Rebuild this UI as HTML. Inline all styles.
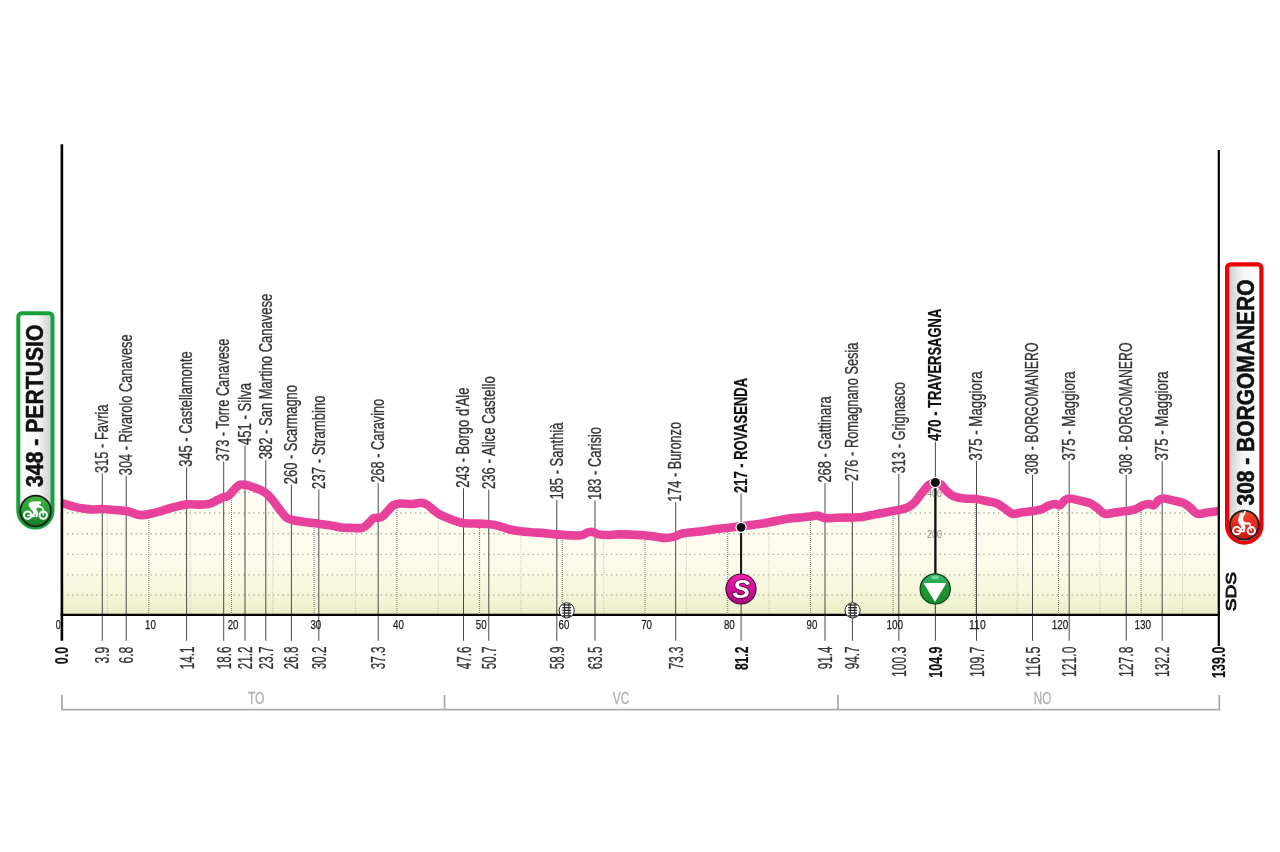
<!DOCTYPE html>
<html lang="it"><head><meta charset="utf-8"><title>Pertusio - Borgomanero</title>
<style>html,body{margin:0;padding:0;background:#fff}body{width:1280px;height:852px;overflow:hidden}svg{display:block}text{font-family:"Liberation Sans",sans-serif}.lb{font-size:17.7px;fill:#333;stroke:#333;stroke-width:.3px}.lbb{font-size:17.9px;font-weight:bold;fill:#111;stroke:#111;stroke-width:.2px}.km{font-size:19.5px;fill:#333;stroke:#333;stroke-width:.3px}.kmb{font-size:18.8px;font-weight:bold;fill:#111;stroke:#111;stroke-width:.2px}.tk{font-size:12.2px;fill:#1c1c1c;stroke:#1c1c1c;stroke-width:.25px}.pv{font-size:17.3px;fill:#aeaeae;stroke:#aeaeae;stroke-width:.3px}.al{font-size:10.5px;fill:#8a8a82}.bd{font-size:23.6px;font-weight:bold;fill:#111;stroke:#111;stroke-width:.55px}</style></head><body>
<svg width="1280" height="852" viewBox="0 0 1280 852">
<defs>
<linearGradient id="gfill" x1="0" y1="480" x2="0" y2="615" gradientUnits="userSpaceOnUse"><stop offset="0" stop-color="#fefdf4"/><stop offset="0.6" stop-color="#fcfbeb"/><stop offset="0.8" stop-color="#f6f7dd"/><stop offset="1" stop-color="#ecefc6"/></linearGradient>
<clipPath id="carea"><path d="M61.90 503.10 C64.08 503.73 70.32 505.85 75.00 506.90 C79.68 507.95 85.42 509.05 90.00 509.40 C94.58 509.75 98.33 508.90 102.50 509.00 C106.67 509.10 110.83 509.62 115.00 510.00 C119.17 510.38 123.33 510.47 127.50 511.30 C131.67 512.13 136.25 514.58 140.00 515.00 C143.75 515.42 146.25 514.53 150.00 513.80 C153.75 513.07 158.33 511.75 162.50 510.60 C166.67 509.45 170.83 507.93 175.00 506.90 C179.17 505.87 183.33 504.78 187.50 504.40 C191.67 504.02 196.25 504.73 200.00 504.60 C203.75 504.47 207.08 504.37 210.00 503.60 C212.92 502.83 215.21 501.08 217.50 500.00 C219.79 498.92 221.88 497.83 223.75 497.10 C225.62 496.37 226.88 496.99 228.75 495.60 C230.62 494.21 233.12 490.56 235.00 488.75 C236.88 486.94 238.33 485.42 240.00 484.75 C241.67 484.08 242.92 484.39 245.00 484.75 C247.08 485.11 249.17 485.61 252.50 486.90 C255.83 488.19 261.67 490.32 265.00 492.50 C268.33 494.68 270.00 497.08 272.50 500.00 C275.00 502.92 277.71 507.08 280.00 510.00 C282.29 512.92 284.17 515.83 286.25 517.50 C288.33 519.17 289.17 519.21 292.50 520.00 C295.83 520.79 301.88 521.62 306.25 522.25 C310.62 522.88 314.58 523.19 318.75 523.75 C322.92 524.31 327.50 524.98 331.25 525.60 C335.00 526.23 338.12 527.12 341.25 527.50 C344.38 527.88 346.46 527.86 350.00 527.90 C353.54 527.94 359.38 528.55 362.50 527.75 C365.62 526.95 366.88 524.71 368.75 523.10 C370.62 521.49 371.67 519.08 373.75 518.10 C375.83 517.12 378.96 518.39 381.25 517.25 C383.54 516.11 385.42 513.29 387.50 511.25 C389.58 509.21 391.67 506.29 393.75 505.00 C395.83 503.71 396.88 503.67 400.00 503.50 C403.12 503.33 408.96 504.12 412.50 504.00 C416.04 503.88 418.75 502.58 421.25 502.75 C423.75 502.92 424.79 503.27 427.50 505.00 C430.21 506.73 433.75 510.77 437.50 513.10 C441.25 515.43 445.83 517.33 450.00 519.00 C454.17 520.67 458.33 522.35 462.50 523.10 C466.67 523.85 470.83 523.35 475.00 523.50 C479.17 523.65 483.75 523.65 487.50 524.00 C491.25 524.35 493.75 524.68 497.50 525.60 C501.25 526.52 506.25 528.56 510.00 529.50 C513.75 530.44 516.46 530.79 520.00 531.25 C523.54 531.71 527.29 531.94 531.25 532.25 C535.21 532.56 539.58 532.74 543.75 533.10 C547.92 533.46 552.08 534.04 556.25 534.40 C560.42 534.76 564.58 535.11 568.75 535.25 C572.92 535.39 578.12 535.71 581.25 535.25 C584.38 534.79 585.62 533.06 587.50 532.50 C589.38 531.94 590.62 531.58 592.50 531.90 C594.38 532.22 596.25 533.88 598.75 534.40 C601.25 534.92 604.17 535.00 607.50 535.00 C610.83 535.00 614.79 534.47 618.75 534.40 C622.71 534.33 627.08 534.46 631.25 534.60 C635.42 534.74 639.38 534.87 643.75 535.25 C648.12 535.63 653.96 536.46 657.50 536.90 C661.04 537.34 662.29 537.90 665.00 537.90 C667.71 537.90 670.83 537.63 673.75 536.90 C676.67 536.17 678.12 534.40 682.50 533.50 C686.88 532.60 693.96 532.29 700.00 531.50 C706.04 530.71 711.92 529.62 718.75 528.75 C725.58 527.88 733.71 527.17 741.00 526.30 C748.29 525.42 754.75 524.76 762.50 523.50 C770.25 522.24 781.25 519.73 787.50 518.75 C793.75 517.77 796.25 517.96 800.00 517.60 C803.75 517.24 807.08 516.93 810.00 516.60 C812.92 516.27 815.00 515.35 817.50 515.60 C820.00 515.85 821.67 517.74 825.00 518.10 C828.33 518.46 832.92 517.85 837.50 517.75 C842.08 517.65 848.33 517.64 852.50 517.50 C856.67 517.36 858.75 517.42 862.50 516.90 C866.25 516.38 870.83 515.23 875.00 514.40 C879.17 513.57 883.33 512.67 887.50 511.90 C891.67 511.12 896.46 510.58 900.00 509.75 C903.54 508.92 906.25 508.21 908.75 506.90 C911.25 505.59 912.92 504.09 915.00 501.90 C917.08 499.71 918.96 496.57 921.25 493.75 C923.54 490.93 926.46 486.88 928.75 485.00 C931.04 483.12 932.92 482.53 935.00 482.50 C937.08 482.47 939.25 483.30 941.25 484.80 C943.25 486.30 944.92 489.59 947.00 491.50 C949.08 493.41 950.96 495.08 953.75 496.25 C956.54 497.42 960.00 498.04 963.75 498.50 C967.50 498.96 972.29 498.54 976.25 499.00 C980.21 499.46 983.96 500.46 987.50 501.25 C991.04 502.04 994.58 502.50 997.50 503.75 C1000.42 505.00 1002.50 507.08 1005.00 508.75 C1007.50 510.42 1009.79 513.12 1012.50 513.75 C1015.21 514.38 1017.92 512.96 1021.25 512.50 C1024.58 512.04 1029.17 511.52 1032.50 511.00 C1035.83 510.48 1038.54 510.30 1041.25 509.40 C1043.96 508.50 1046.46 506.50 1048.75 505.60 C1051.04 504.70 1053.12 504.06 1055.00 504.00 C1056.88 503.94 1058.33 505.92 1060.00 505.25 C1061.67 504.58 1063.33 501.12 1065.00 500.00 C1066.67 498.88 1067.50 498.40 1070.00 498.50 C1072.50 498.60 1076.67 499.83 1080.00 500.60 C1083.33 501.37 1087.17 501.90 1090.00 503.10 C1092.83 504.30 1094.50 506.03 1097.00 507.80 C1099.50 509.57 1102.00 512.97 1105.00 513.75 C1108.00 514.53 1111.46 512.96 1115.00 512.50 C1118.54 512.04 1122.92 511.52 1126.25 511.00 C1129.58 510.48 1132.29 510.30 1135.00 509.40 C1137.71 508.50 1140.21 506.50 1142.50 505.60 C1144.79 504.70 1146.88 504.06 1148.75 504.00 C1150.62 503.94 1152.08 505.92 1153.75 505.25 C1155.42 504.58 1157.08 501.12 1158.75 500.00 C1160.42 498.88 1161.25 498.40 1163.75 498.50 C1166.25 498.60 1170.42 499.83 1173.75 500.60 C1177.08 501.37 1181.04 501.95 1183.75 503.10 C1186.46 504.25 1187.71 505.73 1190.00 507.50 C1192.29 509.27 1194.58 512.92 1197.50 513.75 C1200.42 514.58 1203.96 512.96 1207.50 512.50 C1211.04 512.04 1216.88 511.25 1218.75 511.00 L1218.75 614.9 L61.9 614.9 Z"/></clipPath>
<linearGradient id="gl" x1="0" y1="0" x2="1" y2="0"><stop offset="0" stop-color="#fff"/><stop offset="0.55" stop-color="#fafafa"/><stop offset="1" stop-color="#c9c9d1"/></linearGradient>
<linearGradient id="gr" x1="0" y1="0" x2="1" y2="0"><stop offset="0" stop-color="#c6c9cb"/><stop offset="0.45" stop-color="#f6f6f6"/><stop offset="1" stop-color="#fff"/></linearGradient>
<linearGradient id="ggreen" x1="0" y1="0" x2="0" y2="1"><stop offset="0" stop-color="#3db53d"/><stop offset="0.5" stop-color="#26a032"/><stop offset="1" stop-color="#14792a"/></linearGradient>
<linearGradient id="gred" x1="0" y1="0" x2="0" y2="1"><stop offset="0" stop-color="#f04a2a"/><stop offset="0.5" stop-color="#e62a1c"/><stop offset="1" stop-color="#c81414"/></linearGradient>
<linearGradient id="gmag" x1="0" y1="0" x2="0" y2="1"><stop offset="0" stop-color="#ee22b0"/><stop offset="0.5" stop-color="#d3109a"/><stop offset="1" stop-color="#a40a7c"/></linearGradient>
<linearGradient id="gkom" x1="0" y1="0" x2="0" y2="1"><stop offset="0" stop-color="#35b86e"/><stop offset="0.3" stop-color="#27a84e"/><stop offset="0.31" stop-color="#1f9b38"/><stop offset="1" stop-color="#178a30"/></linearGradient>
</defs>
<rect width="1280" height="852" fill="#fff"/>
<path d="M61.90 503.10 C64.08 503.73 70.32 505.85 75.00 506.90 C79.68 507.95 85.42 509.05 90.00 509.40 C94.58 509.75 98.33 508.90 102.50 509.00 C106.67 509.10 110.83 509.62 115.00 510.00 C119.17 510.38 123.33 510.47 127.50 511.30 C131.67 512.13 136.25 514.58 140.00 515.00 C143.75 515.42 146.25 514.53 150.00 513.80 C153.75 513.07 158.33 511.75 162.50 510.60 C166.67 509.45 170.83 507.93 175.00 506.90 C179.17 505.87 183.33 504.78 187.50 504.40 C191.67 504.02 196.25 504.73 200.00 504.60 C203.75 504.47 207.08 504.37 210.00 503.60 C212.92 502.83 215.21 501.08 217.50 500.00 C219.79 498.92 221.88 497.83 223.75 497.10 C225.62 496.37 226.88 496.99 228.75 495.60 C230.62 494.21 233.12 490.56 235.00 488.75 C236.88 486.94 238.33 485.42 240.00 484.75 C241.67 484.08 242.92 484.39 245.00 484.75 C247.08 485.11 249.17 485.61 252.50 486.90 C255.83 488.19 261.67 490.32 265.00 492.50 C268.33 494.68 270.00 497.08 272.50 500.00 C275.00 502.92 277.71 507.08 280.00 510.00 C282.29 512.92 284.17 515.83 286.25 517.50 C288.33 519.17 289.17 519.21 292.50 520.00 C295.83 520.79 301.88 521.62 306.25 522.25 C310.62 522.88 314.58 523.19 318.75 523.75 C322.92 524.31 327.50 524.98 331.25 525.60 C335.00 526.23 338.12 527.12 341.25 527.50 C344.38 527.88 346.46 527.86 350.00 527.90 C353.54 527.94 359.38 528.55 362.50 527.75 C365.62 526.95 366.88 524.71 368.75 523.10 C370.62 521.49 371.67 519.08 373.75 518.10 C375.83 517.12 378.96 518.39 381.25 517.25 C383.54 516.11 385.42 513.29 387.50 511.25 C389.58 509.21 391.67 506.29 393.75 505.00 C395.83 503.71 396.88 503.67 400.00 503.50 C403.12 503.33 408.96 504.12 412.50 504.00 C416.04 503.88 418.75 502.58 421.25 502.75 C423.75 502.92 424.79 503.27 427.50 505.00 C430.21 506.73 433.75 510.77 437.50 513.10 C441.25 515.43 445.83 517.33 450.00 519.00 C454.17 520.67 458.33 522.35 462.50 523.10 C466.67 523.85 470.83 523.35 475.00 523.50 C479.17 523.65 483.75 523.65 487.50 524.00 C491.25 524.35 493.75 524.68 497.50 525.60 C501.25 526.52 506.25 528.56 510.00 529.50 C513.75 530.44 516.46 530.79 520.00 531.25 C523.54 531.71 527.29 531.94 531.25 532.25 C535.21 532.56 539.58 532.74 543.75 533.10 C547.92 533.46 552.08 534.04 556.25 534.40 C560.42 534.76 564.58 535.11 568.75 535.25 C572.92 535.39 578.12 535.71 581.25 535.25 C584.38 534.79 585.62 533.06 587.50 532.50 C589.38 531.94 590.62 531.58 592.50 531.90 C594.38 532.22 596.25 533.88 598.75 534.40 C601.25 534.92 604.17 535.00 607.50 535.00 C610.83 535.00 614.79 534.47 618.75 534.40 C622.71 534.33 627.08 534.46 631.25 534.60 C635.42 534.74 639.38 534.87 643.75 535.25 C648.12 535.63 653.96 536.46 657.50 536.90 C661.04 537.34 662.29 537.90 665.00 537.90 C667.71 537.90 670.83 537.63 673.75 536.90 C676.67 536.17 678.12 534.40 682.50 533.50 C686.88 532.60 693.96 532.29 700.00 531.50 C706.04 530.71 711.92 529.62 718.75 528.75 C725.58 527.88 733.71 527.17 741.00 526.30 C748.29 525.42 754.75 524.76 762.50 523.50 C770.25 522.24 781.25 519.73 787.50 518.75 C793.75 517.77 796.25 517.96 800.00 517.60 C803.75 517.24 807.08 516.93 810.00 516.60 C812.92 516.27 815.00 515.35 817.50 515.60 C820.00 515.85 821.67 517.74 825.00 518.10 C828.33 518.46 832.92 517.85 837.50 517.75 C842.08 517.65 848.33 517.64 852.50 517.50 C856.67 517.36 858.75 517.42 862.50 516.90 C866.25 516.38 870.83 515.23 875.00 514.40 C879.17 513.57 883.33 512.67 887.50 511.90 C891.67 511.12 896.46 510.58 900.00 509.75 C903.54 508.92 906.25 508.21 908.75 506.90 C911.25 505.59 912.92 504.09 915.00 501.90 C917.08 499.71 918.96 496.57 921.25 493.75 C923.54 490.93 926.46 486.88 928.75 485.00 C931.04 483.12 932.92 482.53 935.00 482.50 C937.08 482.47 939.25 483.30 941.25 484.80 C943.25 486.30 944.92 489.59 947.00 491.50 C949.08 493.41 950.96 495.08 953.75 496.25 C956.54 497.42 960.00 498.04 963.75 498.50 C967.50 498.96 972.29 498.54 976.25 499.00 C980.21 499.46 983.96 500.46 987.50 501.25 C991.04 502.04 994.58 502.50 997.50 503.75 C1000.42 505.00 1002.50 507.08 1005.00 508.75 C1007.50 510.42 1009.79 513.12 1012.50 513.75 C1015.21 514.38 1017.92 512.96 1021.25 512.50 C1024.58 512.04 1029.17 511.52 1032.50 511.00 C1035.83 510.48 1038.54 510.30 1041.25 509.40 C1043.96 508.50 1046.46 506.50 1048.75 505.60 C1051.04 504.70 1053.12 504.06 1055.00 504.00 C1056.88 503.94 1058.33 505.92 1060.00 505.25 C1061.67 504.58 1063.33 501.12 1065.00 500.00 C1066.67 498.88 1067.50 498.40 1070.00 498.50 C1072.50 498.60 1076.67 499.83 1080.00 500.60 C1083.33 501.37 1087.17 501.90 1090.00 503.10 C1092.83 504.30 1094.50 506.03 1097.00 507.80 C1099.50 509.57 1102.00 512.97 1105.00 513.75 C1108.00 514.53 1111.46 512.96 1115.00 512.50 C1118.54 512.04 1122.92 511.52 1126.25 511.00 C1129.58 510.48 1132.29 510.30 1135.00 509.40 C1137.71 508.50 1140.21 506.50 1142.50 505.60 C1144.79 504.70 1146.88 504.06 1148.75 504.00 C1150.62 503.94 1152.08 505.92 1153.75 505.25 C1155.42 504.58 1157.08 501.12 1158.75 500.00 C1160.42 498.88 1161.25 498.40 1163.75 498.50 C1166.25 498.60 1170.42 499.83 1173.75 500.60 C1177.08 501.37 1181.04 501.95 1183.75 503.10 C1186.46 504.25 1187.71 505.73 1190.00 507.50 C1192.29 509.27 1194.58 512.92 1197.50 513.75 C1200.42 514.58 1203.96 512.96 1207.50 512.50 C1211.04 512.04 1216.88 511.25 1218.75 511.00 L1218.75 614.9 L61.9 614.9 Z" fill="url(#gfill)"/>
<g clip-path="url(#carea)">
<line x1="67" y1="492.30" x2="1218" y2="492.30" stroke="#aeae9f" stroke-width="1.3" stroke-dasharray="1.4 3.5"/>
<line x1="67" y1="513.00" x2="1218" y2="513.00" stroke="#aeae9f" stroke-width="1.3" stroke-dasharray="1.4 3.5"/>
<line x1="67" y1="533.75" x2="1218" y2="533.75" stroke="#aeae9f" stroke-width="1.3" stroke-dasharray="1.4 3.5"/>
<line x1="67" y1="554.40" x2="1218" y2="554.40" stroke="#aeae9f" stroke-width="1.3" stroke-dasharray="1.4 3.5"/>
<line x1="67" y1="574.80" x2="1218" y2="574.80" stroke="#aeae9f" stroke-width="1.3" stroke-dasharray="1.4 3.5"/>
<line x1="67" y1="595.20" x2="1218" y2="595.20" stroke="#aeae9f" stroke-width="1.3" stroke-dasharray="1.4 3.5"/>
<line x1="148.8" y1="470" x2="148.8" y2="614" stroke="#6c6c66" stroke-width="0.9" stroke-dasharray="1 1"/>
<line x1="231.5" y1="470" x2="231.5" y2="614" stroke="#6c6c66" stroke-width="0.9" stroke-dasharray="1 1"/>
<line x1="314.2" y1="470" x2="314.2" y2="614" stroke="#6c6c66" stroke-width="0.9" stroke-dasharray="1 1"/>
<line x1="396.9" y1="470" x2="396.9" y2="614" stroke="#6c6c66" stroke-width="0.9" stroke-dasharray="1 1"/>
<line x1="479.6" y1="470" x2="479.6" y2="614" stroke="#6c6c66" stroke-width="0.9" stroke-dasharray="1 1"/>
<line x1="562.3" y1="470" x2="562.3" y2="614" stroke="#6c6c66" stroke-width="0.9" stroke-dasharray="1 1"/>
<line x1="645.0" y1="470" x2="645.0" y2="614" stroke="#6c6c66" stroke-width="0.9" stroke-dasharray="1 1"/>
<line x1="727.7" y1="470" x2="727.7" y2="614" stroke="#6c6c66" stroke-width="0.9" stroke-dasharray="1 1"/>
<line x1="810.4" y1="470" x2="810.4" y2="614" stroke="#6c6c66" stroke-width="0.9" stroke-dasharray="1 1"/>
<line x1="893.1" y1="470" x2="893.1" y2="614" stroke="#6c6c66" stroke-width="0.9" stroke-dasharray="1 1"/>
<line x1="975.8" y1="470" x2="975.8" y2="614" stroke="#6c6c66" stroke-width="0.9" stroke-dasharray="1 1"/>
<line x1="1058.5" y1="470" x2="1058.5" y2="614" stroke="#6c6c66" stroke-width="0.9" stroke-dasharray="1 1"/>
<line x1="1141.2" y1="470" x2="1141.2" y2="614" stroke="#6c6c66" stroke-width="0.9" stroke-dasharray="1 1"/>
<line x1="107.4" y1="470" x2="107.4" y2="614" stroke="#c4c4b8" stroke-width="0.9" stroke-dasharray="1 1"/>
<line x1="190.2" y1="470" x2="190.2" y2="614" stroke="#c4c4b8" stroke-width="0.9" stroke-dasharray="1 1"/>
<line x1="272.9" y1="470" x2="272.9" y2="614" stroke="#c4c4b8" stroke-width="0.9" stroke-dasharray="1 1"/>
<line x1="355.5" y1="470" x2="355.5" y2="614" stroke="#c4c4b8" stroke-width="0.9" stroke-dasharray="1 1"/>
<line x1="438.2" y1="470" x2="438.2" y2="614" stroke="#c4c4b8" stroke-width="0.9" stroke-dasharray="1 1"/>
<line x1="521.0" y1="470" x2="521.0" y2="614" stroke="#c4c4b8" stroke-width="0.9" stroke-dasharray="1 1"/>
<line x1="603.7" y1="470" x2="603.7" y2="614" stroke="#c4c4b8" stroke-width="0.9" stroke-dasharray="1 1"/>
<line x1="686.4" y1="470" x2="686.4" y2="614" stroke="#c4c4b8" stroke-width="0.9" stroke-dasharray="1 1"/>
<line x1="769.1" y1="470" x2="769.1" y2="614" stroke="#c4c4b8" stroke-width="0.9" stroke-dasharray="1 1"/>
<line x1="851.8" y1="470" x2="851.8" y2="614" stroke="#c4c4b8" stroke-width="0.9" stroke-dasharray="1 1"/>
<line x1="934.5" y1="470" x2="934.5" y2="614" stroke="#c4c4b8" stroke-width="0.9" stroke-dasharray="1 1"/>
<line x1="1017.2" y1="470" x2="1017.2" y2="614" stroke="#c4c4b8" stroke-width="0.9" stroke-dasharray="1 1"/>
<line x1="1099.8" y1="470" x2="1099.8" y2="614" stroke="#c4c4b8" stroke-width="0.9" stroke-dasharray="1 1"/>
<line x1="1182.5" y1="470" x2="1182.5" y2="614" stroke="#c4c4b8" stroke-width="0.9" stroke-dasharray="1 1"/>
</g>
<text class="al" x="934.5" y="497" text-anchor="middle" textLength="15" lengthAdjust="spacingAndGlyphs">400</text>
<text class="al" x="934.5" y="537.6" text-anchor="middle" textLength="15" lengthAdjust="spacingAndGlyphs">200</text>
<line x1="102.3" y1="473.4" x2="102.3" y2="640.8" stroke="#4a4a4a" stroke-width="1"/>
<line x1="126.2" y1="475.7" x2="126.2" y2="640.8" stroke="#4a4a4a" stroke-width="1"/>
<line x1="186.6" y1="467.3" x2="186.6" y2="640.8" stroke="#4a4a4a" stroke-width="1"/>
<line x1="223.7" y1="461.5" x2="223.7" y2="640.8" stroke="#4a4a4a" stroke-width="1"/>
<line x1="245.0" y1="445.5" x2="245.0" y2="640.8" stroke="#4a4a4a" stroke-width="1"/>
<line x1="265.8" y1="459.7" x2="265.8" y2="640.8" stroke="#4a4a4a" stroke-width="1"/>
<line x1="291.4" y1="484.7" x2="291.4" y2="640.8" stroke="#4a4a4a" stroke-width="1"/>
<line x1="318.8" y1="489.4" x2="318.8" y2="640.8" stroke="#4a4a4a" stroke-width="1"/>
<line x1="378.2" y1="483.1" x2="378.2" y2="640.8" stroke="#4a4a4a" stroke-width="1"/>
<line x1="463.5" y1="488.2" x2="463.5" y2="640.8" stroke="#4a4a4a" stroke-width="1"/>
<line x1="488.8" y1="489.6" x2="488.8" y2="640.8" stroke="#4a4a4a" stroke-width="1"/>
<line x1="556.8" y1="500.1" x2="556.8" y2="640.8" stroke="#4a4a4a" stroke-width="1"/>
<line x1="595.0" y1="500.5" x2="595.0" y2="640.8" stroke="#4a4a4a" stroke-width="1"/>
<line x1="675.7" y1="502.3" x2="675.7" y2="640.8" stroke="#4a4a4a" stroke-width="1"/>
<line x1="741.1" y1="493.5" x2="741.1" y2="640.8" stroke="#4a4a4a" stroke-width="1"/>
<line x1="825.0" y1="483.1" x2="825.0" y2="640.8" stroke="#4a4a4a" stroke-width="1"/>
<line x1="852.4" y1="481.4" x2="852.4" y2="640.8" stroke="#4a4a4a" stroke-width="1"/>
<line x1="898.8" y1="473.8" x2="898.8" y2="640.8" stroke="#4a4a4a" stroke-width="1"/>
<line x1="935.4" y1="441.6" x2="935.4" y2="640.8" stroke="#4a4a4a" stroke-width="1"/>
<line x1="976.5" y1="461.1" x2="976.5" y2="640.8" stroke="#4a4a4a" stroke-width="1"/>
<line x1="1032.5" y1="474.9" x2="1032.5" y2="640.8" stroke="#4a4a4a" stroke-width="1"/>
<line x1="1069.2" y1="461.1" x2="1069.2" y2="640.8" stroke="#4a4a4a" stroke-width="1"/>
<line x1="1126.2" y1="474.9" x2="1126.2" y2="640.8" stroke="#4a4a4a" stroke-width="1"/>
<line x1="1162.2" y1="461.1" x2="1162.2" y2="640.8" stroke="#4a4a4a" stroke-width="1"/>
<path d="M61.90 503.10 C64.08 503.73 70.32 505.85 75.00 506.90 C79.68 507.95 85.42 509.05 90.00 509.40 C94.58 509.75 98.33 508.90 102.50 509.00 C106.67 509.10 110.83 509.62 115.00 510.00 C119.17 510.38 123.33 510.47 127.50 511.30 C131.67 512.13 136.25 514.58 140.00 515.00 C143.75 515.42 146.25 514.53 150.00 513.80 C153.75 513.07 158.33 511.75 162.50 510.60 C166.67 509.45 170.83 507.93 175.00 506.90 C179.17 505.87 183.33 504.78 187.50 504.40 C191.67 504.02 196.25 504.73 200.00 504.60 C203.75 504.47 207.08 504.37 210.00 503.60 C212.92 502.83 215.21 501.08 217.50 500.00 C219.79 498.92 221.88 497.83 223.75 497.10 C225.62 496.37 226.88 496.99 228.75 495.60 C230.62 494.21 233.12 490.56 235.00 488.75 C236.88 486.94 238.33 485.42 240.00 484.75 C241.67 484.08 242.92 484.39 245.00 484.75 C247.08 485.11 249.17 485.61 252.50 486.90 C255.83 488.19 261.67 490.32 265.00 492.50 C268.33 494.68 270.00 497.08 272.50 500.00 C275.00 502.92 277.71 507.08 280.00 510.00 C282.29 512.92 284.17 515.83 286.25 517.50 C288.33 519.17 289.17 519.21 292.50 520.00 C295.83 520.79 301.88 521.62 306.25 522.25 C310.62 522.88 314.58 523.19 318.75 523.75 C322.92 524.31 327.50 524.98 331.25 525.60 C335.00 526.23 338.12 527.12 341.25 527.50 C344.38 527.88 346.46 527.86 350.00 527.90 C353.54 527.94 359.38 528.55 362.50 527.75 C365.62 526.95 366.88 524.71 368.75 523.10 C370.62 521.49 371.67 519.08 373.75 518.10 C375.83 517.12 378.96 518.39 381.25 517.25 C383.54 516.11 385.42 513.29 387.50 511.25 C389.58 509.21 391.67 506.29 393.75 505.00 C395.83 503.71 396.88 503.67 400.00 503.50 C403.12 503.33 408.96 504.12 412.50 504.00 C416.04 503.88 418.75 502.58 421.25 502.75 C423.75 502.92 424.79 503.27 427.50 505.00 C430.21 506.73 433.75 510.77 437.50 513.10 C441.25 515.43 445.83 517.33 450.00 519.00 C454.17 520.67 458.33 522.35 462.50 523.10 C466.67 523.85 470.83 523.35 475.00 523.50 C479.17 523.65 483.75 523.65 487.50 524.00 C491.25 524.35 493.75 524.68 497.50 525.60 C501.25 526.52 506.25 528.56 510.00 529.50 C513.75 530.44 516.46 530.79 520.00 531.25 C523.54 531.71 527.29 531.94 531.25 532.25 C535.21 532.56 539.58 532.74 543.75 533.10 C547.92 533.46 552.08 534.04 556.25 534.40 C560.42 534.76 564.58 535.11 568.75 535.25 C572.92 535.39 578.12 535.71 581.25 535.25 C584.38 534.79 585.62 533.06 587.50 532.50 C589.38 531.94 590.62 531.58 592.50 531.90 C594.38 532.22 596.25 533.88 598.75 534.40 C601.25 534.92 604.17 535.00 607.50 535.00 C610.83 535.00 614.79 534.47 618.75 534.40 C622.71 534.33 627.08 534.46 631.25 534.60 C635.42 534.74 639.38 534.87 643.75 535.25 C648.12 535.63 653.96 536.46 657.50 536.90 C661.04 537.34 662.29 537.90 665.00 537.90 C667.71 537.90 670.83 537.63 673.75 536.90 C676.67 536.17 678.12 534.40 682.50 533.50 C686.88 532.60 693.96 532.29 700.00 531.50 C706.04 530.71 711.92 529.62 718.75 528.75 C725.58 527.88 733.71 527.17 741.00 526.30 C748.29 525.42 754.75 524.76 762.50 523.50 C770.25 522.24 781.25 519.73 787.50 518.75 C793.75 517.77 796.25 517.96 800.00 517.60 C803.75 517.24 807.08 516.93 810.00 516.60 C812.92 516.27 815.00 515.35 817.50 515.60 C820.00 515.85 821.67 517.74 825.00 518.10 C828.33 518.46 832.92 517.85 837.50 517.75 C842.08 517.65 848.33 517.64 852.50 517.50 C856.67 517.36 858.75 517.42 862.50 516.90 C866.25 516.38 870.83 515.23 875.00 514.40 C879.17 513.57 883.33 512.67 887.50 511.90 C891.67 511.12 896.46 510.58 900.00 509.75 C903.54 508.92 906.25 508.21 908.75 506.90 C911.25 505.59 912.92 504.09 915.00 501.90 C917.08 499.71 918.96 496.57 921.25 493.75 C923.54 490.93 926.46 486.88 928.75 485.00 C931.04 483.12 932.92 482.53 935.00 482.50 C937.08 482.47 939.25 483.30 941.25 484.80 C943.25 486.30 944.92 489.59 947.00 491.50 C949.08 493.41 950.96 495.08 953.75 496.25 C956.54 497.42 960.00 498.04 963.75 498.50 C967.50 498.96 972.29 498.54 976.25 499.00 C980.21 499.46 983.96 500.46 987.50 501.25 C991.04 502.04 994.58 502.50 997.50 503.75 C1000.42 505.00 1002.50 507.08 1005.00 508.75 C1007.50 510.42 1009.79 513.12 1012.50 513.75 C1015.21 514.38 1017.92 512.96 1021.25 512.50 C1024.58 512.04 1029.17 511.52 1032.50 511.00 C1035.83 510.48 1038.54 510.30 1041.25 509.40 C1043.96 508.50 1046.46 506.50 1048.75 505.60 C1051.04 504.70 1053.12 504.06 1055.00 504.00 C1056.88 503.94 1058.33 505.92 1060.00 505.25 C1061.67 504.58 1063.33 501.12 1065.00 500.00 C1066.67 498.88 1067.50 498.40 1070.00 498.50 C1072.50 498.60 1076.67 499.83 1080.00 500.60 C1083.33 501.37 1087.17 501.90 1090.00 503.10 C1092.83 504.30 1094.50 506.03 1097.00 507.80 C1099.50 509.57 1102.00 512.97 1105.00 513.75 C1108.00 514.53 1111.46 512.96 1115.00 512.50 C1118.54 512.04 1122.92 511.52 1126.25 511.00 C1129.58 510.48 1132.29 510.30 1135.00 509.40 C1137.71 508.50 1140.21 506.50 1142.50 505.60 C1144.79 504.70 1146.88 504.06 1148.75 504.00 C1150.62 503.94 1152.08 505.92 1153.75 505.25 C1155.42 504.58 1157.08 501.12 1158.75 500.00 C1160.42 498.88 1161.25 498.40 1163.75 498.50 C1166.25 498.60 1170.42 499.83 1173.75 500.60 C1177.08 501.37 1181.04 501.95 1183.75 503.10 C1186.46 504.25 1187.71 505.73 1190.00 507.50 C1192.29 509.27 1194.58 512.92 1197.50 513.75 C1200.42 514.58 1203.96 512.96 1207.50 512.50 C1211.04 512.04 1216.88 511.25 1218.75 511.00" fill="none" stroke="#e8419b" stroke-width="8.6" stroke-linejoin="round" stroke-linecap="butt"/>
<line x1="61.9" y1="144.3" x2="61.9" y2="640.8" stroke="#000" stroke-width="2.6"/>
<line x1="1218.8" y1="150" x2="1218.8" y2="646" stroke="#000" stroke-width="2.2"/>
<line x1="60.6" y1="614.9" x2="1219.9" y2="614.9" stroke="#000" stroke-width="2.1"/>
<line x1="741.1" y1="527" x2="741.1" y2="575" stroke="#111" stroke-width="2"/>
<line x1="935.4" y1="482.5" x2="935.4" y2="575" stroke="#111" stroke-width="2.3"/>
<circle cx="741.1" cy="527.3" r="5.6" fill="#fff"/><circle cx="741.1" cy="527.3" r="4.4" fill="#111"/>
<circle cx="935.3" cy="482.5" r="5.8" fill="#fff"/><circle cx="935.3" cy="482.5" r="4.6" fill="#111"/>
<circle cx="741" cy="589" r="15" fill="url(#gmag)" stroke="#4d0638" stroke-width="1.2"/>
<text x="741.3" y="598.3" text-anchor="middle" font-size="26" font-weight="bold" font-style="italic" fill="#fff" stroke="#4d0638" stroke-width="1.6" paint-order="stroke" stroke-linejoin="round" textLength="17.6" lengthAdjust="spacingAndGlyphs">S</text>
<circle cx="935.2" cy="588.9" r="15.1" fill="url(#gkom)" stroke="#0c3d18" stroke-width="1.2"/>
<ellipse cx="935.2" cy="577.4" rx="3.8" ry="1.8" fill="#8fd9a8" opacity="0.8"/>
<path d="M923.6 582.9 L946.4 582.9 L935 602 Z" fill="#fff"/>
<g><circle cx="566.7" cy="610.4" r="7.6" fill="#fff" stroke="#222" stroke-width="1"/>
<path d="M564.5 603.6V617.2M568.9 603.6V617.2" stroke="#222" stroke-width="1" fill="none"/>
<line x1="562.3" y1="605.0" x2="571.1" y2="605.0" stroke="#222" stroke-width="1.3"/>
<line x1="562.3" y1="607.7" x2="571.1" y2="607.7" stroke="#222" stroke-width="1.3"/>
<line x1="562.3" y1="610.4" x2="571.1" y2="610.4" stroke="#222" stroke-width="1.3"/>
<line x1="562.3" y1="613.1" x2="571.1" y2="613.1" stroke="#222" stroke-width="1.3"/>
<line x1="562.3" y1="615.8" x2="571.1" y2="615.8" stroke="#222" stroke-width="1.3"/>
</g>
<g><circle cx="852.6" cy="610.4" r="7.6" fill="#fff" stroke="#222" stroke-width="1"/>
<path d="M850.4 603.6V617.2M854.8 603.6V617.2" stroke="#222" stroke-width="1" fill="none"/>
<line x1="848.2" y1="605.0" x2="857.0" y2="605.0" stroke="#222" stroke-width="1.3"/>
<line x1="848.2" y1="607.7" x2="857.0" y2="607.7" stroke="#222" stroke-width="1.3"/>
<line x1="848.2" y1="610.4" x2="857.0" y2="610.4" stroke="#222" stroke-width="1.3"/>
<line x1="848.2" y1="613.1" x2="857.0" y2="613.1" stroke="#222" stroke-width="1.3"/>
<line x1="848.2" y1="615.8" x2="857.0" y2="615.8" stroke="#222" stroke-width="1.3"/>
</g>
<text class="lb" transform="translate(102.3 472.9) rotate(-90)" x="0" y="5.7" textLength="68.4" lengthAdjust="spacingAndGlyphs">315 - Favria</text>
<text class="lb" transform="translate(126.2 475.2) rotate(-90)" x="0" y="5.7" textLength="140.7" lengthAdjust="spacingAndGlyphs">304 - Rivarolo Canavese</text>
<text class="lb" transform="translate(186.6 466.8) rotate(-90)" x="0" y="5.7" textLength="115.5" lengthAdjust="spacingAndGlyphs">345 - Castellamonte</text>
<text class="lb" transform="translate(223.7 461.0) rotate(-90)" x="0" y="5.7" textLength="122.3" lengthAdjust="spacingAndGlyphs">373 - Torre Canavese</text>
<text class="lb" transform="translate(245.0 445.0) rotate(-90)" x="0" y="5.7" textLength="62.0" lengthAdjust="spacingAndGlyphs">451 - Silva</text>
<text class="lb" transform="translate(265.8 459.2) rotate(-90)" x="0" y="5.7" textLength="165.4" lengthAdjust="spacingAndGlyphs">382 - San Martino Canavese</text>
<text class="lb" transform="translate(291.4 484.2) rotate(-90)" x="0" y="5.7" textLength="99.2" lengthAdjust="spacingAndGlyphs">260 - Scarmagno</text>
<text class="lb" transform="translate(318.8 488.9) rotate(-90)" x="0" y="5.7" textLength="93.4" lengthAdjust="spacingAndGlyphs">237 - Strambino</text>
<text class="lb" transform="translate(378.2 482.6) rotate(-90)" x="0" y="5.7" textLength="83.8" lengthAdjust="spacingAndGlyphs">268 - Caravino</text>
<text class="lb" transform="translate(463.5 487.7) rotate(-90)" x="0" y="5.7" textLength="100.2" lengthAdjust="spacingAndGlyphs">243 - Borgo d'Ale</text>
<text class="lb" transform="translate(488.8 489.1) rotate(-90)" x="0" y="5.7" textLength="112.9" lengthAdjust="spacingAndGlyphs">236 - Alice Castello</text>
<text class="lb" transform="translate(556.8 499.6) rotate(-90)" x="0" y="5.7" textLength="77.1" lengthAdjust="spacingAndGlyphs">185 - Santhià</text>
<text class="lb" transform="translate(595.0 500.0) rotate(-90)" x="0" y="5.7" textLength="73.0" lengthAdjust="spacingAndGlyphs">183 - Carisio</text>
<text class="lb" transform="translate(675.7 501.8) rotate(-90)" x="0" y="5.7" textLength="79.8" lengthAdjust="spacingAndGlyphs">174 - Buronzo</text>
<text class="lbb" transform="translate(741.1 493.0) rotate(-90)" x="0" y="5.7" textLength="115.0" lengthAdjust="spacingAndGlyphs">217 - ROVASENDA</text>
<text class="lb" transform="translate(825.0 482.6) rotate(-90)" x="0" y="5.7" textLength="86.3" lengthAdjust="spacingAndGlyphs">268 - Gattinara</text>
<text class="lb" transform="translate(852.4 480.9) rotate(-90)" x="0" y="5.7" textLength="138.4" lengthAdjust="spacingAndGlyphs">276 - Romagnano Sesia</text>
<text class="lb" transform="translate(898.8 473.3) rotate(-90)" x="0" y="5.7" textLength="91.3" lengthAdjust="spacingAndGlyphs">313 - Grignasco</text>
<text class="lbb" transform="translate(935.4 441.1) rotate(-90)" x="0" y="5.7" textLength="132.4" lengthAdjust="spacingAndGlyphs">470 - TRAVERSAGNA</text>
<text class="lb" transform="translate(976.5 460.6) rotate(-90)" x="0" y="5.7" textLength="89.3" lengthAdjust="spacingAndGlyphs">375 - Maggiora</text>
<text class="lb" transform="translate(1032.5 474.4) rotate(-90)" x="0" y="5.7" textLength="132.1" lengthAdjust="spacingAndGlyphs">308 - BORGOMANERO</text>
<text class="lb" transform="translate(1069.2 460.6) rotate(-90)" x="0" y="5.7" textLength="89.3" lengthAdjust="spacingAndGlyphs">375 - Maggiora</text>
<text class="lb" transform="translate(1126.2 474.4) rotate(-90)" x="0" y="5.7" textLength="132.1" lengthAdjust="spacingAndGlyphs">308 - BORGOMANERO</text>
<text class="lb" transform="translate(1162.2 460.6) rotate(-90)" x="0" y="5.7" textLength="89.3" lengthAdjust="spacingAndGlyphs">375 - Maggiora</text>
<text class="km" transform="translate(102.3 646.6) rotate(-90)" x="0" y="7.0" text-anchor="end" textLength="17.0" lengthAdjust="spacingAndGlyphs">3.9</text>
<text class="km" transform="translate(126.2 646.6) rotate(-90)" x="0" y="7.0" text-anchor="end" textLength="17.0" lengthAdjust="spacingAndGlyphs">6.8</text>
<text class="km" transform="translate(186.6 646.6) rotate(-90)" x="0" y="7.0" text-anchor="end" textLength="22.7" lengthAdjust="spacingAndGlyphs">14.1</text>
<text class="km" transform="translate(223.7 646.6) rotate(-90)" x="0" y="7.0" text-anchor="end" textLength="22.7" lengthAdjust="spacingAndGlyphs">18.6</text>
<text class="km" transform="translate(245.0 646.6) rotate(-90)" x="0" y="7.0" text-anchor="end" textLength="22.7" lengthAdjust="spacingAndGlyphs">21.2</text>
<text class="km" transform="translate(265.8 646.6) rotate(-90)" x="0" y="7.0" text-anchor="end" textLength="22.7" lengthAdjust="spacingAndGlyphs">23.7</text>
<text class="km" transform="translate(291.4 646.6) rotate(-90)" x="0" y="7.0" text-anchor="end" textLength="22.7" lengthAdjust="spacingAndGlyphs">26.8</text>
<text class="km" transform="translate(318.8 646.6) rotate(-90)" x="0" y="7.0" text-anchor="end" textLength="22.7" lengthAdjust="spacingAndGlyphs">30.2</text>
<text class="km" transform="translate(378.2 646.6) rotate(-90)" x="0" y="7.0" text-anchor="end" textLength="22.7" lengthAdjust="spacingAndGlyphs">37.3</text>
<text class="km" transform="translate(463.5 646.6) rotate(-90)" x="0" y="7.0" text-anchor="end" textLength="22.7" lengthAdjust="spacingAndGlyphs">47.6</text>
<text class="km" transform="translate(488.8 646.6) rotate(-90)" x="0" y="7.0" text-anchor="end" textLength="22.7" lengthAdjust="spacingAndGlyphs">50.7</text>
<text class="km" transform="translate(556.8 646.6) rotate(-90)" x="0" y="7.0" text-anchor="end" textLength="22.7" lengthAdjust="spacingAndGlyphs">58.9</text>
<text class="km" transform="translate(595.0 646.6) rotate(-90)" x="0" y="7.0" text-anchor="end" textLength="22.7" lengthAdjust="spacingAndGlyphs">63.5</text>
<text class="km" transform="translate(675.7 646.6) rotate(-90)" x="0" y="7.0" text-anchor="end" textLength="22.7" lengthAdjust="spacingAndGlyphs">73.3</text>
<text class="kmb" transform="translate(741.1 646.6) rotate(-90)" x="0" y="6.7" text-anchor="end" textLength="23.5" lengthAdjust="spacingAndGlyphs">81.2</text>
<text class="km" transform="translate(825.0 646.6) rotate(-90)" x="0" y="7.0" text-anchor="end" textLength="22.7" lengthAdjust="spacingAndGlyphs">91.4</text>
<text class="km" transform="translate(852.4 646.6) rotate(-90)" x="0" y="7.0" text-anchor="end" textLength="22.7" lengthAdjust="spacingAndGlyphs">94.7</text>
<text class="km" transform="translate(898.8 646.6) rotate(-90)" x="0" y="7.0" text-anchor="end" textLength="30.3" lengthAdjust="spacingAndGlyphs">100.3</text>
<text class="kmb" transform="translate(935.4 646.6) rotate(-90)" x="0" y="6.7" text-anchor="end" textLength="31.1" lengthAdjust="spacingAndGlyphs">104.9</text>
<text class="km" transform="translate(976.5 646.6) rotate(-90)" x="0" y="7.0" text-anchor="end" textLength="30.3" lengthAdjust="spacingAndGlyphs">109.7</text>
<text class="km" transform="translate(1032.5 646.6) rotate(-90)" x="0" y="7.0" text-anchor="end" textLength="30.3" lengthAdjust="spacingAndGlyphs">116.5</text>
<text class="km" transform="translate(1069.2 646.6) rotate(-90)" x="0" y="7.0" text-anchor="end" textLength="30.3" lengthAdjust="spacingAndGlyphs">121.0</text>
<text class="km" transform="translate(1126.2 646.6) rotate(-90)" x="0" y="7.0" text-anchor="end" textLength="30.3" lengthAdjust="spacingAndGlyphs">127.8</text>
<text class="km" transform="translate(1162.2 646.6) rotate(-90)" x="0" y="7.0" text-anchor="end" textLength="30.3" lengthAdjust="spacingAndGlyphs">132.2</text>
<text class="kmb" transform="translate(61.5 646.6) rotate(-90)" x="0" y="6.7" text-anchor="end" textLength="17.6" lengthAdjust="spacingAndGlyphs">0.0</text>
<text class="kmb" transform="translate(1218.3 646.6) rotate(-90)" x="0" y="6.7" text-anchor="end" textLength="31.3" lengthAdjust="spacingAndGlyphs">139.0</text>
<text class="tk" x="58.2" y="628.7" text-anchor="middle" textLength="5" lengthAdjust="spacingAndGlyphs">0</text>
<text class="tk" x="150.4" y="628.7" text-anchor="middle" textLength="10.8" lengthAdjust="spacingAndGlyphs">10</text>
<text class="tk" x="233.1" y="628.7" text-anchor="middle" textLength="10.8" lengthAdjust="spacingAndGlyphs">20</text>
<text class="tk" x="315.8" y="628.7" text-anchor="middle" textLength="10.8" lengthAdjust="spacingAndGlyphs">30</text>
<text class="tk" x="398.5" y="628.7" text-anchor="middle" textLength="10.8" lengthAdjust="spacingAndGlyphs">40</text>
<text class="tk" x="481.2" y="628.7" text-anchor="middle" textLength="10.8" lengthAdjust="spacingAndGlyphs">50</text>
<text class="tk" x="563.9" y="628.7" text-anchor="middle" textLength="10.8" lengthAdjust="spacingAndGlyphs">60</text>
<text class="tk" x="646.6" y="628.7" text-anchor="middle" textLength="10.8" lengthAdjust="spacingAndGlyphs">70</text>
<text class="tk" x="729.3" y="628.7" text-anchor="middle" textLength="10.8" lengthAdjust="spacingAndGlyphs">80</text>
<text class="tk" x="812.0" y="628.7" text-anchor="middle" textLength="10.8" lengthAdjust="spacingAndGlyphs">90</text>
<text class="tk" x="894.7" y="628.7" text-anchor="middle" textLength="16.6" lengthAdjust="spacingAndGlyphs">100</text>
<text class="tk" x="977.4" y="628.7" text-anchor="middle" textLength="16.6" lengthAdjust="spacingAndGlyphs">110</text>
<text class="tk" x="1060.1" y="628.7" text-anchor="middle" textLength="16.6" lengthAdjust="spacingAndGlyphs">120</text>
<text class="tk" x="1142.8" y="628.7" text-anchor="middle" textLength="16.6" lengthAdjust="spacingAndGlyphs">130</text>
<path d="M62 695V709.6H1219.3V695M444.5 695V709.6M838 695V709.6" fill="none" stroke="#acacb0" stroke-width="1.8"/>
<text class="pv" x="256.2" y="703.6" text-anchor="middle" textLength="16.5" lengthAdjust="spacingAndGlyphs">TO</text>
<text class="pv" x="621.0" y="703.6" text-anchor="middle" textLength="16.5" lengthAdjust="spacingAndGlyphs">VC</text>
<text class="pv" x="1042.5" y="703.6" text-anchor="middle" textLength="17.5" lengthAdjust="spacingAndGlyphs">NO</text>
<text transform="translate(1236.3 611.3) rotate(-90)" x="0" y="0" font-size="15.4" fill="#111" stroke="#111" stroke-width="0.9" stroke-linejoin="round" textLength="39.2" lengthAdjust="spacingAndGlyphs">SDS</text>
<path d="M18.3 316.7 a3.5 3.5 0 0 1 3.5 -3.5 h27.2 a3.5 3.5 0 0 1 3.5 3.5 V510.4 a17.1 17.1 0 0 1 -34.2 0 Z" fill="url(#gl)" stroke="#17a038" stroke-width="4"/>
<text class="bd" transform="translate(34.7 486.9) rotate(-90)" x="0" y="8.45" textLength="162.3" lengthAdjust="spacingAndGlyphs">348 - PERTUSIO</text>
<circle cx="35.6" cy="511" r="15.3" fill="url(#ggreen)" stroke="#1a1a1e" stroke-width="1.8"/>
<g transform="translate(35.6 511.0) scale(1.000)" fill="#fff" stroke="none"><circle cx="-7.9" cy="4.1" r="3.7" fill="none" stroke="#fff" stroke-width="2"/><circle cx="7.6" cy="4.1" r="3.7" fill="none" stroke="#fff" stroke-width="2"/><path d="M-7.9 4.1 L-1 5.4 M7.4 -2.4 L7.6 4.1 M-4.6 4.1 h1.6" fill="none" stroke="#fff" stroke-width="1.4" stroke-linecap="round"/><path d="M-6.9 -6.2 C-6.9 -8.2 -5 -9.4 -2.5 -9.4 L3 -9.6 C4 -10 5.4 -9.8 5.6 -8.6 C5.8 -7.4 5 -6.8 3.8 -6.8 L3.4 -6 L6.4 -4.4 L8 -2.4 L7.2 -1.6 L5.4 -3 L2.2 -3.6 L0.6 -2 L2.4 1 L2 6 L0.2 6.4 L-0.2 2.6 L-2.4 6.4 L-4.2 6 L-2.2 1 L-4.4 -1.6 C-5.6 -2.8 -6.9 -4.4 -6.9 -6.2 Z"/></g>
<path d="M1227.1 267.9 a3.6 3.6 0 0 1 3.6 -3.6 h27.1 a3.6 3.6 0 0 1 3.6 3.6 V525.5 a17.15 17.15 0 0 1 -34.3 0 Z" fill="url(#gr)" stroke="#ea0008" stroke-width="4.2"/>
<text class="bd" transform="translate(1245.7 505.5) rotate(-90)" x="0" y="8.45" textLength="226" lengthAdjust="spacingAndGlyphs">308 - BORGOMANERO</text>
<circle cx="1244.3" cy="525.1" r="14.5" fill="url(#gred)" stroke="#14201e" stroke-width="1.9"/>
<g transform="translate(1244.3 525.1)" fill="#fff" stroke="none"><circle cx="-7.5" cy="5.6" r="3.65" fill="none" stroke="#fff" stroke-width="2"/><circle cx="7" cy="5.6" r="3.65" fill="none" stroke="#fff" stroke-width="2"/><path d="M-7.5 5.6 L-1 6.4 M5.6 -1 L7 5.6 M-4.4 5.6 h1.6" fill="none" stroke="#fff" stroke-width="1.4" stroke-linecap="round"/><path d="M-3.6 -12 C-2.8 -12.6 -1.6 -12.4 -1.2 -11.4 L0 -14 L1.2 -14.4 L1.6 -13.4 L0.4 -10.4 C-0.4 -9 -1.2 -8 -1.2 -6.6 L-1 -4.4 L1.6 -2.6 L5 -2.8 L6.4 -1.4 L5.6 -0.4 L1.4 -0.4 L0 -1.2 L1.2 2 L0.6 7 L-1.2 7.2 L-1.2 3 L-3.4 7 L-5 6.4 L-3 1.6 L-5 -1 C-6.4 -3 -6.4 -5.6 -5.6 -7.6 C-5 -9.2 -4.6 -10.8 -3.6 -12 Z"/></g>
</svg></body></html>
